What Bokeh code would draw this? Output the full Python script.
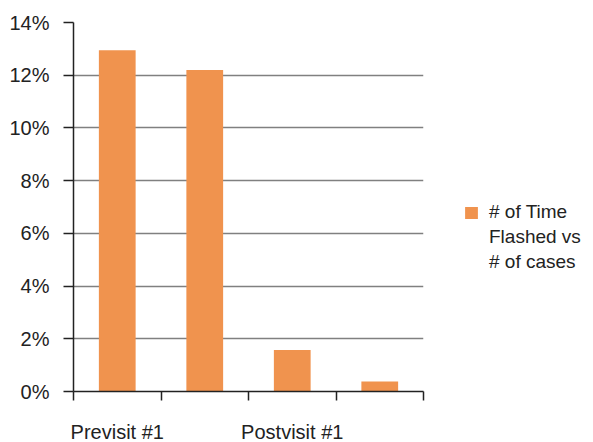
from bokeh.plotting import figure
from bokeh.models import FixedTicker, Legend, LegendItem, ColumnDataSource
from bokeh.embed import file_html
from bokeh.resources import INLINE

categories = ["Previsit #1", "", "Postvisit #1", ""]
values = [12.95, 12.2, 1.57, 0.38]
y_ticks = [0, 2, 4, 6, 8, 10, 12, 14]
y_tick_labels = ["0%", "2%", "4%", "6%", "8%", "10%", "12%", "14%"]
series_name_lines = ["# of Time", "Flashed vs", "# of cases"]

xs = [i + 0.5 for i in range(len(categories))]
src = ColumnDataSource(dict(x=xs, top=values))

p = figure(frame_width=350, frame_height=369, x_range=(0, 4), y_range=(0, 14),
           output_backend="svg", toolbar_location=None,
           min_border_left=73, min_border_right=0, min_border_top=22, min_border_bottom=51)
p.outline_line_color = None
p.background_fill_color = "white"

r = p.vbar(x="x", top="top", width=0.42, source=src, color="#F0934E", line_color=None)
# invisible renderer used only for continuation lines of the legend label
dummy = p.vbar(x=[], top=[], width=0.42, fill_alpha=0, line_alpha=0)

font = "Liberation Sans"
# y axis
p.yaxis.ticker = FixedTicker(ticks=y_ticks)
p.yaxis.major_label_overrides = {t: l for t, l in zip(y_ticks, y_tick_labels)}
p.yaxis.minor_tick_line_color = None
p.yaxis.major_tick_in = 0
p.yaxis.major_tick_out = 10
p.yaxis.major_label_standoff = 14
p.yaxis.axis_line_color = "#222222"
p.yaxis.axis_line_width = 1.5
p.yaxis.major_tick_line_color = "#222222"
p.yaxis.major_tick_line_width = 1.5
p.yaxis.major_label_text_font = font
p.yaxis.major_label_text_font_size = "20px"
p.yaxis.major_label_text_color = "#222222"

# x axis
p.xaxis.ticker = FixedTicker(ticks=[xs[i] for i in range(len(categories)) if categories[i]],
                             minor_ticks=list(range(len(categories) + 1)))
p.xaxis.major_label_overrides = {xs[i]: c for i, c in enumerate(categories) if c}
p.xaxis.major_tick_line_color = None
p.xaxis.minor_tick_in = 0
p.xaxis.minor_tick_out = 9
p.xaxis.minor_tick_line_color = "#222222"
p.xaxis.minor_tick_line_width = 1.5
p.xaxis.axis_line_color = "#222222"
p.xaxis.axis_line_width = 1.5
p.xaxis.major_label_standoff = 20
p.xaxis.major_label_text_font = font
p.xaxis.major_label_text_font_size = "20px"
p.xaxis.major_label_text_color = "#222222"

p.xgrid.grid_line_color = None
p.ygrid.ticker = FixedTicker(ticks=y_ticks[1:])
p.ygrid.grid_line_color = "#808080"
p.ygrid.grid_line_width = 1.3

items = [LegendItem(label=series_name_lines[0], renderers=[r])]
items += [LegendItem(label=t, renderers=[dummy]) for t in series_name_lines[1:]]
legend = Legend(items=items,
                location=(40, 118), padding=0, margin=0, spacing=3, border_line_color=None,
                background_fill_alpha=0, glyph_width=16, glyph_height=15,
                label_standoff=10, label_text_font=font, label_text_font_size="19px",
                label_text_color="#222222", label_height=22)
p.add_layout(legend, "right")
p.min_border_right = 170

open("out.html", "w").write(file_html(p, INLINE))
